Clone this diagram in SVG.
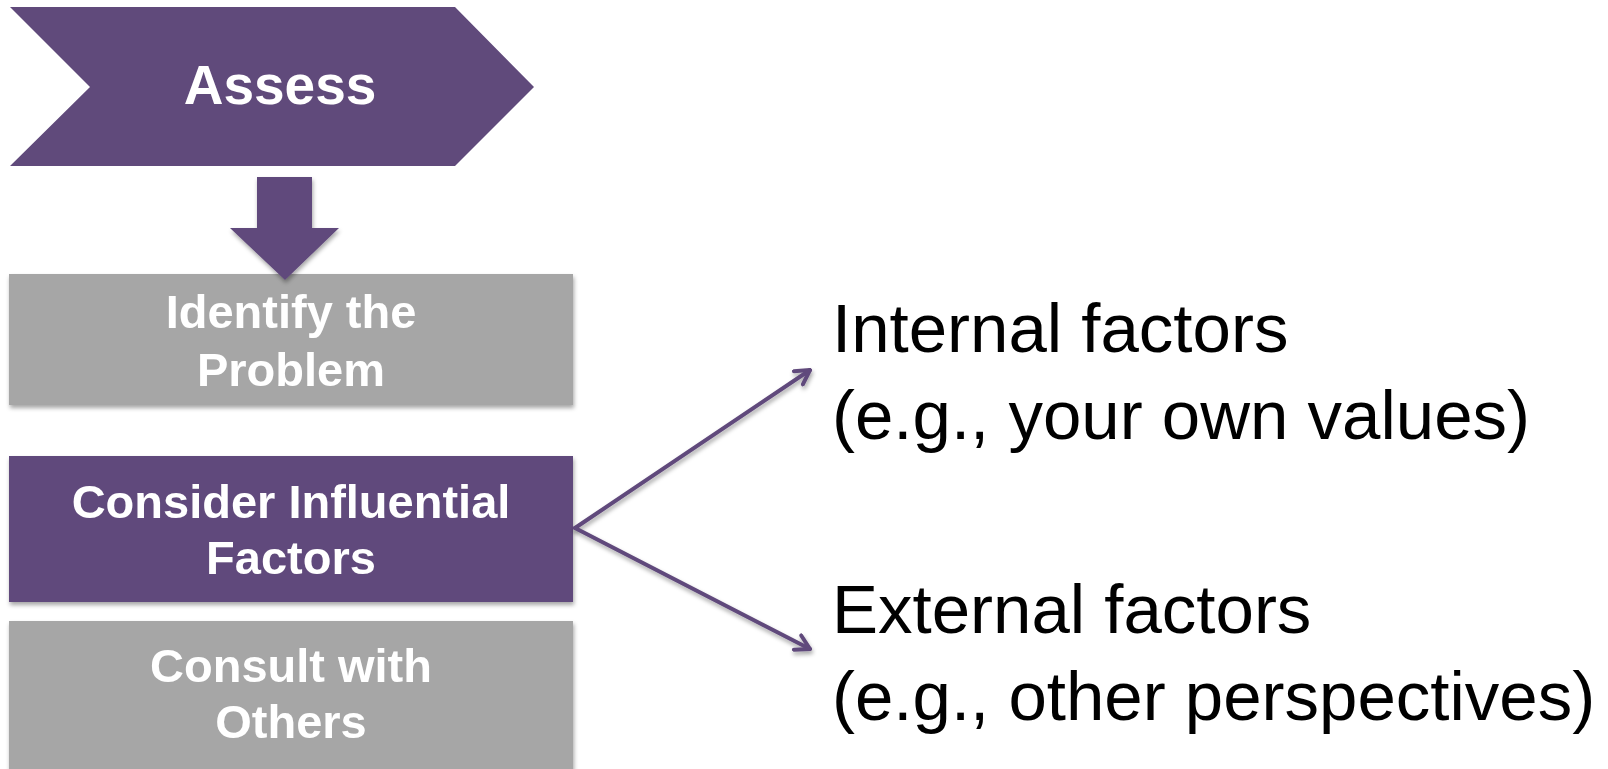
<svg xmlns="http://www.w3.org/2000/svg" width="1608" height="769" viewBox="0 0 1608 769">
  <style>
    .purple { fill: #604A7B; }
    .gray { fill: #A6A6A6; }
    .box-label { font-family: "Liberation Sans", Arial, sans-serif; font-weight: bold; font-size: 47px; fill: #FFFFFF; text-anchor: middle; }
    .title { font-family: "Liberation Sans", Arial, sans-serif; font-weight: bold; font-size: 55px; fill: #FFFFFF; text-anchor: middle; }
    .factor { font-family: "Liberation Sans", Arial, sans-serif; font-size: 69px; fill: #000000; }
    .link { fill: none; stroke: #604A7B; stroke-width: 4; stroke-linecap: round; }
  </style>
  <defs>
    <filter id="shadow" x="-10%" y="-10%" width="120%" height="130%">
      <feDropShadow dx="1" dy="3" stdDeviation="2" flood-color="#000000" flood-opacity="0.35"/>
    </filter>
    <marker id="open-head" viewBox="0 0 20 20" refX="18" refY="10" markerWidth="20" markerHeight="20" markerUnits="userSpaceOnUse" orient="auto">
      <path d="M4,2 L18,10 L4,18" fill="none" stroke="#604A7B" stroke-width="4" stroke-linecap="round" stroke-linejoin="round"/>
    </marker>
  </defs>

  <!-- Stage chevron -->
  <g id="assess">
    <polygon class="purple" points="10,7 455,7 534,87 455,166 10,166 90,87"/>
    <text class="title" x="280" y="104">Assess</text>
  </g>

  <!-- Step boxes -->
  <g id="identify-problem" filter="url(#shadow)">
    <rect class="gray" x="9" y="274" width="564" height="131"/>
    <text class="box-label" x="291" y="328">Identify the</text>
    <text class="box-label" x="291" y="386">Problem</text>
  </g>

  <g id="consider-factors" filter="url(#shadow)">
    <rect class="purple" x="9" y="456" width="564" height="146"/>
    <text class="box-label" x="291" y="518">Consider Influential</text>
    <text class="box-label" x="291" y="574">Factors</text>
  </g>

  <g id="consult-others" filter="url(#shadow)">
    <rect class="gray" x="9" y="621" width="564" height="150"/>
    <text class="box-label" x="291" y="682">Consult with</text>
    <text class="box-label" x="291" y="738">Others</text>
  </g>

  <!-- Factor labels -->
  <g id="internal-factors">
    <text class="factor" x="832" y="352">Internal factors</text>
    <text class="factor" x="832" y="439">(e.g., your own values)</text>
  </g>

  <g id="external-factors">
    <text class="factor" x="832" y="633">External factors</text>
    <text class="factor" x="832" y="720">(e.g., other perspectives)</text>
  </g>

  <!-- Connectors -->
  <g id="connectors">
    <polygon class="purple" filter="url(#shadow)" points="257,177 312,177 312,228 339,228 285,280 230,228 257,228"/>
    <line class="link" filter="url(#shadow)" x1="575" y1="528" x2="810" y2="370" marker-end="url(#open-head)"/>
    <line class="link" filter="url(#shadow)" x1="575" y1="528" x2="810" y2="649" marker-end="url(#open-head)"/>
  </g>
</svg>
